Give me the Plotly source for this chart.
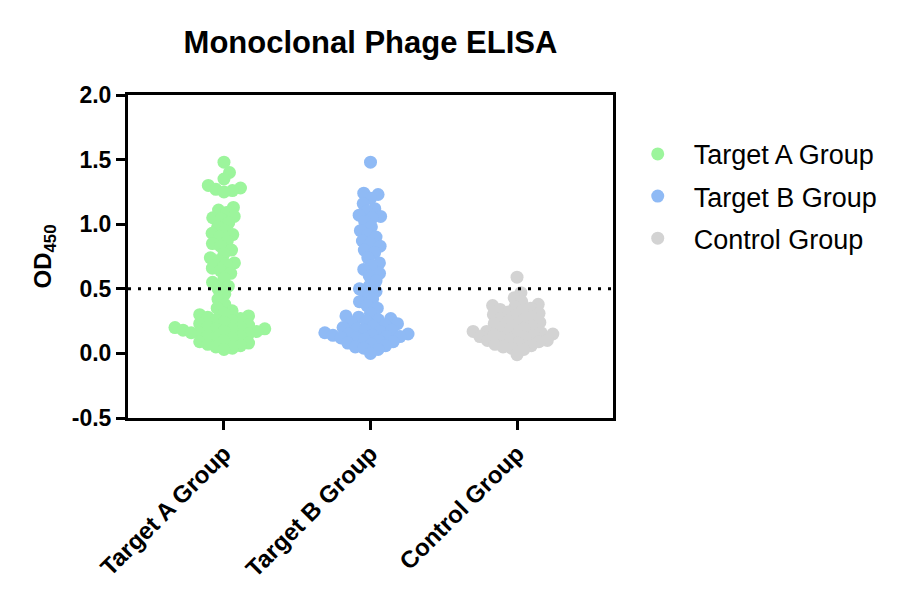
import math
import plotly.graph_objects as go

# OD450 readings per group
groups = ["Target A Group", "Target B Group", "Control Group"]
colors = ["#9cf59c", "#8fbaf5", "#d3d3d3"]

target_a = [1.48, 1.40, 1.35, 1.30, 1.28, 1.27, 1.26, 1.25, 1.13, 1.11,
            1.09, 1.06, 1.05, 1.04, 1.01, 0.98, 0.95, 0.93, 0.92, 0.90,
            0.87, 0.85, 0.83, 0.80, 0.77, 0.74, 0.72, 0.70, 0.69, 0.66,
            0.64, 0.62, 0.58, 0.55, 0.52, 0.50, 0.46, 0.42, 0.38,
            0.35, 0.33, 0.31, 0.30, 0.29, 0.28, 0.27, 0.26, 0.25, 0.24,
            0.23, 0.22, 0.21, 0.20, 0.20, 0.19, 0.19, 0.18, 0.18, 0.17,
            0.17, 0.16, 0.16, 0.15, 0.14, 0.13, 0.12, 0.11, 0.10, 0.09,
            0.08, 0.07, 0.06, 0.05, 0.04, 0.03]
target_b = [1.48, 1.24, 1.23, 1.20, 1.16, 1.12, 1.10, 1.07, 1.06, 1.05,
            1.02, 0.98, 0.95, 0.92, 0.90, 0.87, 0.85, 0.83, 0.80, 0.78,
            0.74, 0.70, 0.68, 0.65, 0.62, 0.60, 0.56, 0.52, 0.50, 0.48,
            0.45, 0.42, 0.40, 0.37, 0.35,
            0.31, 0.29, 0.28, 0.27, 0.26, 0.25, 0.24, 0.23, 0.22, 0.21,
            0.20, 0.19, 0.18, 0.18, 0.17, 0.16, 0.15, 0.15, 0.14, 0.14,
            0.13, 0.13, 0.12, 0.12, 0.11, 0.10, 0.09, 0.08, 0.07, 0.06,
            0.05, 0.04, 0.03, 0.00]
control = [0.59, 0.47, 0.43, 0.40, 0.38, 0.37, 0.36, 0.35, 0.34, 0.33,
           0.32, 0.31, 0.30, 0.29, 0.28, 0.27, 0.26, 0.25, 0.24, 0.23,
           0.22, 0.21, 0.20, 0.19, 0.18, 0.17, 0.17, 0.16, 0.15, 0.15,
           0.14, 0.14, 0.13, 0.12, 0.12, 0.11, 0.10, 0.10, 0.09, 0.08,
           0.07, 0.06, 0.05, 0.04, 0.03, -0.01]
values = [target_a, target_b, control]

y_ticks = [-0.5, 0.0, 0.5, 1.0, 1.5, 2.0]
y_labels = ["-0.5", "0.0", "0.5", "1.0", "1.5", "2.0"]
cutoff = 0.5

# pixel scale of the plot area, used to spread points into a swarm
PX_X = 146.5   # pixels per category step
PX_Y = 129.2   # pixels per OD unit
DIAM = 8.5     # collision distance in pixels


def swarm(vals):
    placed = []
    offs = [0.0] * len(vals)
    order = sorted(range(len(vals)), key=lambda i: vals[i])
    for i in order:
        y = vals[i] * PX_Y
        cands = [0.0]
        for xj, yj in placed:
            dy = y - yj
            if abs(dy) < DIAM:
                dx = math.sqrt(DIAM ** 2 - dy ** 2)
                cands += [xj + dx, xj - dx]
        cands.sort(key=abs)
        for c in cands:
            if all((c - xj) ** 2 + (y - yj) ** 2 >= DIAM ** 2 - 1e-6
                   for xj, yj in placed):
                break
        placed.append((c, y))
        offs[i] = c / PX_X
    return offs


data = []
for k, (name, vals, col) in enumerate(zip(groups, values, colors)):
    offs = swarm(vals)
    data.append(go.Scatter(
        x=[k + o for o in offs], y=vals, mode="markers", name=name,
        legendgroup=name,
        marker=dict(color=col, size=13, line=dict(width=0))))

font = "Arial, Liberation Sans, sans-serif"
layout = {
    "width": 900, "height": 607,
    "margin": dict(l=120, r=295, t=87, b=197),
    "paper_bgcolor": "white", "plot_bgcolor": "white",
    "title": dict(text="<b>Monoclonal Phage ELISA</b>", x=0.5, xref="paper",
                  y=0.944, yanchor="middle",
                  font=dict(family=font, size=31, color="black")),
    "xaxis": dict(range=[-0.655, 2.655], tickvals=[0, 1, 2], ticktext=groups,
                  tickangle=-45, showline=True, linewidth=3, linecolor="black",
                  mirror=True, ticks="outside", ticklen=9, tickwidth=3,
                  tickcolor="black", showgrid=False, zeroline=False,
                  tickfont=dict(family=font, size=24, color="black", weight="bold")),
    "yaxis": dict(range=[-0.5, 2.0], tickvals=y_ticks, ticktext=y_labels,
                  showline=True, linewidth=3, linecolor="black", mirror=True,
                  ticks="outside", ticklen=9, tickwidth=3, tickcolor="black",
                  showgrid=False, zeroline=False,
                  title=dict(text="<b>OD<sub>450</sub></b>", standoff=14,
                             font=dict(family=font, size=24, color="black")),
                  tickfont=dict(family=font, size=23, color="black", weight="bold")),
    "legend": dict(x=1.018, y=0.892, xanchor="left", yanchor="top",
                   tracegroupgap=4, itemwidth=62,
                   font=dict(family=font, size=27, color="black")),
    "shapes": [dict(type="line", xref="paper", x0=0, x1=1, y0=cutoff, y1=cutoff,
                    yref="y", layer="above",
                    line=dict(color="black", width=3, dash="3px,7px"))],
}

fig = go.Figure(data=data, layout=layout)
fig.write_html("out.html")
